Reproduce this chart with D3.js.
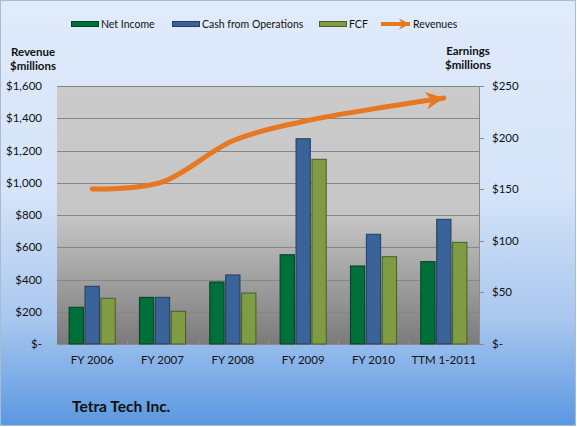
<!DOCTYPE html>
<html>
<head>
<meta charset="utf-8">
<script src="https://cdn.jsdelivr.net/npm/d3@7"></script>
<style>
  body { margin: 0; background: #fff; }
  text { font-family: Lato, "Open Sans", sans-serif; fill: #111; }
</style>
</head>
<body>
<svg id="chart" width="577" height="427"></svg>
<script>
// data
var categories = ["FY 2006", "FY 2007", "FY 2008", "FY 2009", "FY 2010", "TTM 1-2011"];
var netIncome = [35.6, 45.2, 60.1, 86.5, 75.6, 79.8];
var cashOps   = [55.9, 45.2, 66.9, 198.9, 106.3, 120.8];
var fcf       = [44.3, 31.7, 49.4, 179.0, 84.6, 98.5];
var revenues  = [961, 1005, 1260, 1380, 1458, 1525];
var leftTicks  = [0, 200, 400, 600, 800, 1000, 1200, 1400, 1600];
var rightTicks = [0, 50, 100, 150, 200, 250];
var seriesNames = ["Net Income", "Cash from Operations", "FCF"];
var seriesColors = ["#00703a", "#3a6399", "#7f9c45"];
var seriesEdges  = ["#013f22", "#213d62", "#4a5e24"];

var svg = d3.select("#chart");
var W = 577, H = 427;
var plot = {left: 57, right: 479, top: 86, bottom: 344};

var defs = svg.append("defs");
var bg = defs.append("linearGradient").attr("id", "bg")
  .attr("x1", 0).attr("y1", 0).attr("x2", 0).attr("y2", 1);
bg.append("stop").attr("offset", "0%").attr("stop-color", "#e0ebfb");
bg.append("stop").attr("offset", "45%").attr("stop-color", "#d5e4f9");
bg.append("stop").attr("offset", "75%").attr("stop-color", "#a9c7ee");
bg.append("stop").attr("offset", "100%").attr("stop-color", "#5a98e1");

var pg = defs.append("linearGradient").attr("id", "pg")
  .attr("x1", 0).attr("y1", 0).attr("x2", 0).attr("y2", 1);
pg.append("stop").attr("offset", "0%").attr("stop-color", "#cbcbcb");
pg.append("stop").attr("offset", "50%").attr("stop-color", "#c6c6c6");
pg.append("stop").attr("offset", "100%").attr("stop-color", "#7b7b7b");

defs.append("marker").attr("id", "arrow")
  .attr("markerUnits", "userSpaceOnUse")
  .attr("viewBox", "0 0 10 10").attr("refX", 10).attr("refY", 5)
  .attr("markerWidth", 18).attr("markerHeight", 18).attr("orient", "auto")
  .append("path").attr("d", "M0,0 L10,5 L0,10 L3,5 Z").attr("fill", "#e87722");
defs.append("marker").attr("id", "arrowS")
  .attr("markerUnits", "userSpaceOnUse")
  .attr("viewBox", "0 0 10 10").attr("refX", 10).attr("refY", 5)
  .attr("markerWidth", 11).attr("markerHeight", 12).attr("orient", "auto")
  .append("path").attr("d", "M0,0 L10,5 L0,10 L3,5 Z").attr("fill", "#e87722");

// background
svg.append("rect").attr("x", 0.5).attr("y", 0.5).attr("width", W - 2).attr("height", H - 2)
  .attr("fill", "url(#bg)").attr("stroke", "#a9bbd1");

// scales
var yL = d3.scaleLinear().domain([0, 1600]).range([plot.bottom, plot.top]);
var yR = d3.scaleLinear().domain([0, 250]).range([plot.bottom, plot.top]);
var x0 = d3.scaleBand().domain(categories).range([plot.left, plot.right]).padding(0);
var groupW = x0.bandwidth() * 0.67;
var x1 = d3.scaleBand().domain(seriesNames).range([0, groupW]).paddingInner(0.04);

// plot area
svg.append("rect").attr("x", plot.left).attr("y", plot.top)
  .attr("width", plot.right - plot.left).attr("height", plot.bottom - plot.top)
  .attr("fill", "url(#pg)");

svg.append("g").selectAll("line").data(leftTicks.slice(1)).enter().append("line")
  .attr("x1", plot.left).attr("x2", plot.right)
  .attr("y1", function(d) { return Math.round(yL(d)) + 0.5; })
  .attr("y2", function(d) { return Math.round(yL(d)) + 0.5; })
  .attr("stroke", "#868686").attr("stroke-width", 1);

// faint category separators
svg.append("g").selectAll("line").data(categories.slice(1)).enter().append("line")
  .attr("x1", function(d) { return Math.round(x0(d)) + 0.5; })
  .attr("x2", function(d) { return Math.round(x0(d)) + 0.5; })
  .attr("y1", plot.bottom - 4).attr("y2", plot.bottom)
  .attr("stroke", "#8e8e8e");

// left axis labels
svg.append("g").selectAll("text").data(leftTicks).enter().append("text")
  .attr("x", 42).attr("y", function(d) { return yL(d); }).attr("dy", "0.35em")
  .attr("text-anchor", "end").attr("font-size", 11.5)
  .text(function(d) { return d === 0 ? "$-" : "$" + d3.format(",")(d); });

// right axis
svg.append("line").attr("x1", plot.right + 0.5).attr("x2", plot.right + 0.5)
  .attr("y1", plot.top).attr("y2", plot.bottom).attr("stroke", "#8c8c8c");
var rt = svg.append("g").selectAll("g").data(rightTicks).enter().append("g");
rt.append("line").attr("x1", plot.right).attr("x2", plot.right + 5)
  .attr("y1", function(d) { return Math.round(yR(d)) + 0.5; })
  .attr("y2", function(d) { return Math.round(yR(d)) + 0.5; })
  .attr("stroke", "#8c8c8c");
rt.append("text").attr("x", 492).attr("y", function(d) { return yR(d); }).attr("dy", "0.35em")
  .attr("font-size", 11.5)
  .text(function(d) { return d === 0 ? "$-" : "$" + d; });

// x axis line
svg.append("line").attr("x1", plot.left).attr("x2", plot.right)
  .attr("y1", plot.bottom + 0.5).attr("y2", plot.bottom + 0.5).attr("stroke", "#8c8c8c");

svg.append("g").selectAll("text").data(categories).enter().append("text")
  .attr("x", function(d) { return x0(d) + x0.bandwidth() / 2; })
  .attr("y", 360).attr("dy", "0.35em").attr("text-anchor", "middle").attr("font-size", 11.5)
  .text(function(d) { return d; });

// bars
var seriesData = [netIncome, cashOps, fcf];
seriesData.forEach(function(vals, si) {
  svg.append("g").selectAll("rect").data(vals).enter().append("rect")
    .attr("x", function(d, i) {
      return x0(categories[i]) + (x0.bandwidth() - groupW) / 2 + x1(seriesNames[si]) + 0.5;
    })
    .attr("y", function(d) { return yR(d); })
    .attr("width", x1.bandwidth() - 1)
    .attr("height", function(d) { return plot.bottom - yR(d); })
    .attr("fill", seriesColors[si])
    .attr("stroke", seriesEdges[si]).attr("stroke-width", 1);
});

// revenue line
var line = d3.line()
  .x(function(d, i) { return x0(categories[i]) + x0.bandwidth() / 2; })
  .y(function(d) { return yL(d); })
  .curve(d3.curveCardinal.tension(0));
svg.append("path").datum(revenues).attr("d", line)
  .attr("fill", "none").attr("stroke", "#e87722").attr("stroke-width", 5)
  .attr("stroke-linecap", "round").attr("marker-end", "url(#arrow)");

// axis titles
[["Revenue", 33, 52], ["$millions", 33, 66], ["Earnings", 468, 51], ["$millions", 468, 65]]
  .forEach(function(t) {
    svg.append("text").attr("x", t[1]).attr("y", t[2]).attr("dy", "0.35em")
      .attr("text-anchor", "middle").attr("font-size", 11.5).attr("font-weight", "bold")
      .text(t[0]);
  });

// legend
var legendX = [71, 172, 319];
seriesNames.forEach(function(n, i) {
  svg.append("rect").attr("x", legendX[i] + 0.5).attr("y", 21.5).attr("width", 27).attr("height", 5)
    .attr("fill", seriesColors[i]).attr("stroke", seriesEdges[i]);
  svg.append("text").attr("x", legendX[i] + 30).attr("y", 24).attr("dy", "0.35em")
    .attr("font-size", 10.5).text(n);
});
svg.append("line").attr("x1", 381).attr("x2", 410).attr("y1", 24).attr("y2", 24)
  .attr("stroke", "#e87722").attr("stroke-width", 4).attr("marker-end", "url(#arrowS)");
svg.append("text").attr("x", 413).attr("y", 24).attr("dy", "0.35em")
  .attr("font-size", 10.5).text("Revenues");

// title
svg.append("text").attr("x", 72).attr("y", 407).attr("dy", "0.35em")
  .attr("font-size", 15.5).attr("font-weight", "bold").text("Tetra Tech Inc.");
</script>
</body>
</html>
